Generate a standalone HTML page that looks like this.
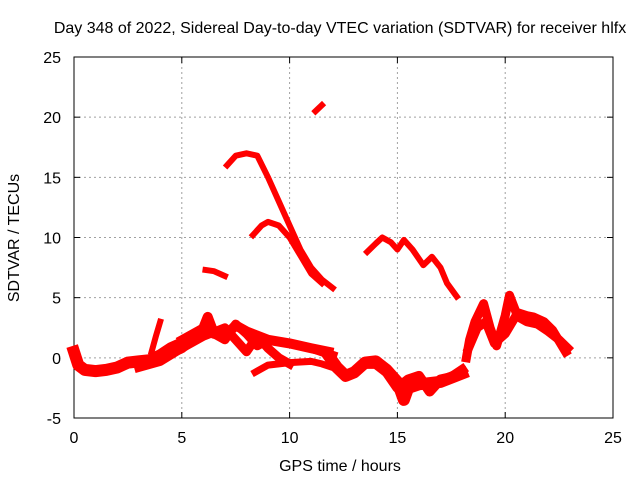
<!DOCTYPE html>
<html><head><meta charset="utf-8"><style>
body{margin:0;background:#fff;}
svg{display:block;font-family:"Liberation Sans",sans-serif;}
</style></head><body>
<svg id="chart" width="640" height="480" viewBox="0 0 640 480"></svg>
<script>
const xTicks=[0,5,10,15,20,25];
const yTicks=[-5,0,5,10,15,20,25];
const arcNames=['arc-early','arc-early-spike','arc-mid','arc-low','arc-peak','arc-secondary','arc-small','arc-top','arc-afternoon','arc-late','arc-late-lower','arc-mid-upper','arc-mid-cross','arc-dip','arc-dip-upper'];
const arcTimes=[
 [0,0.2,0.5,1,1.5,2,2.5,3,3.5,4,4.5,5],
 [3.6,3.8,4],
 [4,5,5.5,6,6.2,6.5,7,7.5,8,9,10,11,11.8],
 [8.4,9,10,11,11.5,12],
 [7.1,7.5,8,8.5,9,9.5,10,10.5,11,11.5,12],
 [8.3,8.7,9,9.5,10,10.5,11,11.5],
 [6.1,6.5,7],
 [11.2,11.5],
 [13.6,14,14.3,14.7,15,15.3,15.7,16.2,16.6,17,17.3,17.75],
 [18.2,18.35,18.6,19,19.3,19.6,20,20.2,20.5,21,21.3,21.8,22.2,22.8],
 [18.3,18.7,19.1,19.5,20,20.5,21,21.5,22,22.5,22.9],
 [5,6,6.2,6.5,7,7.5,8,8.5,9,10,11,12],
 [3,4,5,6,7,7.5,8,8.5,9,9.5,10],
 [11.8,12.2,12.6,13,13.5,14,14.5,15,15.3,15.5,16,17,18],
 [13.5,14,14.5,15,15.5,16,16.5,17,17.5,18]
];
const arcValues=[
 [0.5,-0.6,-1,-1.1,-1,-0.8,-0.4,-0.3,-0.2,0.2,0.8,1.2],
 [0.5,1.8,3],
 [0,0.8,1.5,2.5,3.4,2,1.8,2.7,2.2,1.5,1.2,0.8,0.5],
 [-1.2,-0.6,-0.4,-0.3,-0.5,-0.8],
 [16,16.8,17,16.8,15,13,11,9,7.5,6.5,5.8],
 [10.2,11,11.3,11,10,8.5,7,6.2],
 [7.3,7.2,6.8],
 [20.5,21],
 [8.8,9.5,10,9.6,9,9.8,9,7.7,8.4,7.5,6.2,5.1],
 [0,1.5,3,4.5,2.5,1,3.5,5.2,3.8,3.5,3.4,3,2.3,0.5],
 [0.8,2.5,3,1.2,2,3.5,3,2.8,2.2,1.5,0.8],
 [1.5,2.5,3.3,2,1.5,2.8,2,1,1.5,1.2,0.8,0.2],
 [-0.8,-0.3,0.8,1.8,2.5,1.5,0.5,1.8,0.8,0,-0.5],
 [0.2,-0.8,-1.5,-1.2,-0.4,-0.3,-1,-2,-3.5,-2.5,-2.2,-2,-1.3],
 [-0.5,-0.5,-1.2,-2.5,-1.8,-1.5,-2.8,-1.8,-1.6,-1]
];
const arcWidths=[12,6,10,7,6,6,6,6,6,9,9,9,9,12,10];
const NS='http://www.w3.org/2000/svg';
const svg=document.getElementById('chart');
const L=74,R=613,T=57,B=418;
const sx=v=>L+(v-0)/(25-0)*(R-L);
const sy=v=>B-(v+5)/(30)*(B-T);
function mk(tag,attrs,parent){const e=document.createElementNS(NS,tag);for(const k in attrs)e.setAttribute(k,attrs[k]);(parent||svg).appendChild(e);return e;}
const grid=mk('g',{});


xTicks.forEach(t=>{
 if(t>0&&t<25){const l=mk('line',{x1:sx(t),x2:sx(t),y1:T,y2:B,stroke:'#a0a0a0','stroke-dasharray':'2,3','stroke-width':1},grid);
 
 }
 const tx=mk('text',{x:sx(t),y:B+25,'text-anchor':'middle','font-size':16,fill:'#000'});
 tx.textContent=t;
 
 
 mk('line',{x1:sx(t),x2:sx(t),y1:B,y2:B-6,stroke:'#000'});
 mk('line',{x1:sx(t),x2:sx(t),y1:T,y2:T+6,stroke:'#000'});
});
yTicks.forEach(t=>{
 if(t>-5&&t<25){const l=mk('line',{x1:L,x2:R,y1:sy(t),y2:sy(t),stroke:'#a0a0a0','stroke-dasharray':'2,3','stroke-width':1},grid);
 
 }
 const tx=mk('text',{x:L-13,y:sy(t)+6,'text-anchor':'end','font-size':16,fill:'#000'});
 tx.textContent=t;
 
 
 mk('line',{x1:L,x2:L+6,y1:sy(t),y2:sy(t),stroke:'#000'});
 mk('line',{x1:R,x2:R-6,y1:sy(t),y2:sy(t),stroke:'#000'});
});
const frame=mk('rect',{x:L,y:T,width:R-L,height:B-T,fill:'none',stroke:'#000'});


arcTimes.forEach((ts,i)=>{
 const pts=ts.map((t,j)=>sx(t).toFixed(1)+','+sy(arcValues[i][j]).toFixed(1)).join(' ');
 const p=mk('polyline',{points:pts,fill:'none',stroke:'#ff0000','stroke-width':arcWidths[i],'stroke-linejoin':'round','stroke-linecap':'square'});
 
 
});
const title=mk('text',{x:340,y:33,'text-anchor':'middle','font-size':16,fill:'#000'});
title.textContent='Day 348 of 2022, Sidereal Day-to-day VTEC variation (SDTVAR) for receiver hlfx';


const xl=mk('text',{x:340,y:471,'text-anchor':'middle','font-size':16,fill:'#000'});
xl.textContent='GPS time / hours';


const yl=mk('text',{x:0,y:0,'text-anchor':'middle','font-size':16,fill:'#000',transform:'translate(19,238) rotate(-90)'});
yl.textContent='SDTVAR / TECUs';


</script>
</body></html>
